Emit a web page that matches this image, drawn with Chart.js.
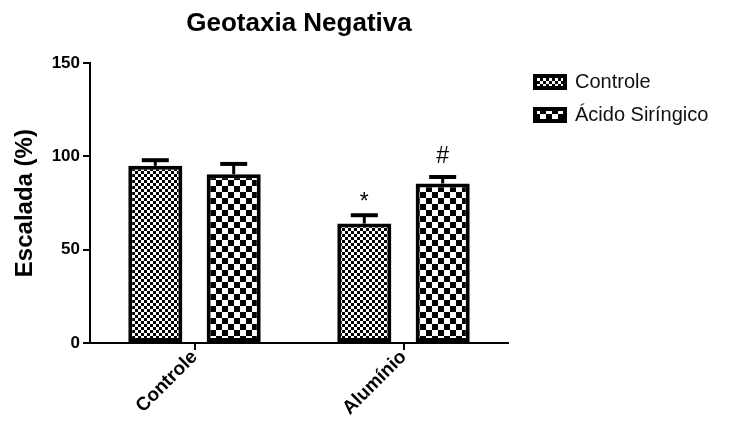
<!DOCTYPE html>
<html lang="pt">
<head>
  <meta charset="UTF-8" />
  <title>Geotaxia Negativa</title>
  <script src="https://cdn.jsdelivr.net/npm/chart.js"></script>
  <style>
    html, body { margin: 0; padding: 0; background: #fff; }
    #wrap { width: 740px; height: 426px; }
  </style>
</head>
<body>
  <div id="wrap"><canvas id="grafico" width="740" height="426"></canvas></div>

  <script>
    // dados
    const grupos = ['Controle', 'Alumínio'];
    const controleMedia = [95, 64];
    const controleErro = [3, 4.5];
    const acidoMedia = [90.5, 85.5];
    const acidoErro = [5.5, 3.5];
    const controleMarca = ['', '*'];
    const acidoMarca = ['', '#'];
    const yTicks = [0, 50, 100, 150];

    const FONTE = '"Liberation Sans", Arial, sans-serif';

    // padrões xadrez das barras
    function xadrez(cel) {
      const c = document.createElement('canvas');
      c.width = c.height = cel * 2;
      const g = c.getContext('2d');
      g.fillStyle = '#fff';
      g.fillRect(0, 0, cel * 2, cel * 2);
      g.fillStyle = '#000';
      g.fillRect(0, 0, cel, cel);
      g.fillRect(cel, cel, cel, cel);
      return g.createPattern(c, 'repeat');
    }

    const ctx = document.getElementById('grafico').getContext('2d');
    const padraoFino = xadrez(3);
    const padraoGrosso = xadrez(6);

    const erros = [controleErro, acidoErro];
    const marcas = [controleMarca, acidoMarca];

    // barras de erro (só para cima) e marcas de significância
    const barrasErro = {
      id: 'barrasErro',
      afterDatasetsDraw(chart) {
        const y = chart.scales.y;
        const c = chart.ctx;
        c.save();
        c.strokeStyle = '#000';
        chart.data.datasets.forEach((ds, i) => {
          const meta = chart.getDatasetMeta(i);
          meta.data.forEach((bar, j) => {
            const topo = y.getPixelForValue(ds.data[j]);
            const ponta = y.getPixelForValue(ds.data[j] + erros[i][j]);
            c.lineWidth = 3;
            c.beginPath();
            c.moveTo(bar.x, topo);
            c.lineTo(bar.x, ponta);
            c.stroke();
            c.lineWidth = 4;
            c.beginPath();
            c.moveTo(bar.x - 13.5, ponta);
            c.lineTo(bar.x + 13.5, ponta);
            c.stroke();
            if (marcas[i][j]) {
              c.fillStyle = '#000';
              c.font = '23px ' + FONTE;
              c.textAlign = 'center';
              c.textBaseline = 'alphabetic';
              // base do glifo um pouco acima da barra de erro
              const m = c.measureText(marcas[i][j]);
              c.fillText(marcas[i][j], bar.x, ponta - 14 - m.actualBoundingBoxDescent);
            }
          });
        });
        c.restore();
      }
    };

    // legenda: largura fixa e posição como no original
    const ajusteLegenda = {
      id: 'ajusteLegenda',
      beforeLayout(chart) {
        const lg = chart.legend;
        if (lg && !lg._fixo) {
          const fit = lg.fit;
          lg.fit = function () { fit.call(this); this.width = 232; };
          lg._fixo = true;
        }
      },
      afterLayout(chart) {
        const lg = chart.legend;
        const h = lg.bottom - lg.top;
        lg.left += 14;
        lg.right += 14;
        lg.top = 59;
        lg.bottom = 59 + h;
      }
    };

    new Chart(ctx, {
      type: 'bar',
      data: {
        labels: grupos,
        datasets: [
          {
            label: 'Controle',
            data: controleMedia,
            backgroundColor: padraoFino,
            borderColor: '#000',
            borderWidth: 4,
            borderSkipped: false
          },
          {
            label: 'Ácido Siríngico',
            data: acidoMedia,
            backgroundColor: padraoGrosso,
            borderColor: '#000',
            borderWidth: 4,
            borderSkipped: false
          }
        ]
      },
      options: {
        responsive: false,
        animation: false,
        devicePixelRatio: 1,
        barPercentage: 0.69,
        categoryPercentage: 0.75,
        layout: { padding: 0 },
        plugins: {
          title: {
            display: true,
            text: 'Geotaxia Negativa',
            fullSize: false,
            color: '#000',
            font: { family: FONTE, size: 26, weight: 'bold' },
            padding: { top: 8, bottom: 24 }
          },
          legend: {
            position: 'right',
            align: 'start',
            labels: {
              color: '#111',
              font: { family: FONTE, size: 20 },
              boxWidth: 30,
              boxHeight: 12,
              padding: 13
            }
          },
          tooltip: { enabled: false }
        },
        scales: {
          x: {
            offset: true,
            grid: { drawOnChartArea: false, offset: false, tickLength: 7, color: '#000', lineWidth: 2 },
            border: { display: true, color: '#000', width: 2 },
            ticks: {
              color: '#000',
              maxRotation: 45,
              minRotation: 45,
              padding: -4,
              font: { family: FONTE, size: 19, weight: 'bold' }
            },
            afterFit: s => { s.height = 83; }
          },
          y: {
            min: 0,
            max: 150,
            afterBuildTicks: s => { s.ticks = yTicks.map(v => ({ value: v })); },
            grid: { drawOnChartArea: false, tickLength: 7, color: '#000', lineWidth: 2 },
            border: { display: true, color: '#000', width: 2 },
            ticks: {
              color: '#000',
              padding: 3,
              font: { family: FONTE, size: 17, weight: 'bold' }
            },
            title: {
              display: true,
              text: 'Escalada (%)',
              color: '#000',
              padding: { top: 11, bottom: 0 },
              font: { family: FONTE, size: 24, weight: 'bold' }
            },
            afterFit: s => { s.width = 90; }
          }
        }
      },
      plugins: [barrasErro, ajusteLegenda]
    });
  </script>
</body>
</html>
